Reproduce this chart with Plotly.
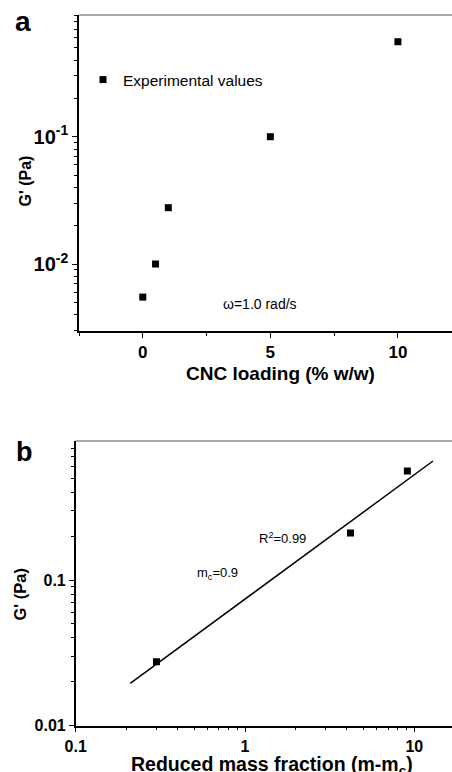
import plotly.graph_objects as go

W, H = 452, 772
FONT = "Liberation Sans, Arial, sans-serif"

# ---- data: panel a ----
cnc_loading = [0, 0.5, 1, 5, 10]
g_prime_a = [0.0055, 0.010, 0.0277, 0.100, 0.557]

# ---- data: panel b ----
reduced_mass = [0.30, 4.2, 9.1]
g_prime_b = [0.0275, 0.21, 0.56]
fit_x = [0.21, 12.9]
fit_y = [0.0195, 0.656]

# ---- ticks ----
a_xticks = [0, 5, 10]
a_xticktext = ["0", "5", "10"]
a_xminor = [-2.5, 2.5, 7.5]
a_yticks = [0.01, 0.1]
a_yticktext = ["10<sup>-2</sup>", "10<sup>-1</sup>"]
b_xticks = [0.1, 1, 10]
b_xticktext = ["0.1", "1", "10"]
b_yticks = [0.01, 0.1]
b_yticktext = ["0.01", "0.1"]

log_minor_a = [m * 10 ** e for e in (-3, -2, -1) for m in range(2, 10)]
log_minor_bx = [m * 10 ** e for e in (-1, 0, 1) for m in range(2, 10)]
log_minor_by = [m * 10 ** e for e in (-2, -1) for m in range(2, 10)]


def fx(p):
    return p / W


def fy(p):
    return 1 - p / H


def bold(labels):
    return ["<b>" + t + "</b>" for t in labels]


fig = go.Figure()
fig.add_trace(go.Scatter(
    x=cnc_loading, y=g_prime_a, mode="markers", name="Experimental values",
    marker=dict(symbol="square", size=7, color="black"),
    xaxis="x", yaxis="y", showlegend=True))
fig.add_trace(go.Scatter(
    x=fit_x, y=fit_y, mode="lines", line=dict(color="black", width=1.5),
    xaxis="x2", yaxis="y2", showlegend=False))
fig.add_trace(go.Scatter(
    x=reduced_mass, y=g_prime_b, mode="markers",
    marker=dict(symbol="square", size=7, color="black"),
    xaxis="x2", yaxis="y2", showlegend=False))


def axis(size, **kw):
    d = dict(showgrid=False, zeroline=False, showline=True, linecolor="black",
             linewidth=1.5, ticks="outside", tickcolor="black", tickwidth=1.2,
             ticklen=5, automargin=False,
             tickfont=dict(family=FONT, size=size, color="black"))
    d.update(kw)
    return d


def minor(vals):
    return dict(tickmode="array", tickvals=vals, ticks="outside",
                ticklen=3, tickcolor="black", tickwidth=1.2)


fig.update_layout(
    width=W, height=H, margin=dict(l=0, r=0, t=0, b=0),
    paper_bgcolor="white", plot_bgcolor="white",
    font=dict(family=FONT, color="black"),
    xaxis=axis(17, domain=[fx(79), 1], range=[-2.5, 12.12], anchor="y",
               tickmode="array", tickvals=a_xticks, ticktext=bold(a_xticktext),
               minor=minor(a_xminor)),
    yaxis=axis(20, domain=[fy(331), fy(15)], type="log",
               range=[-2.526, -0.044], anchor="x",
               tickmode="array", tickvals=a_yticks, ticktext=bold(a_yticktext),
               minor=minor(log_minor_a)),
    xaxis2=axis(16, domain=[fx(75.7), 1], type="log", range=[-1, 1.2227],
                anchor="y2", tickmode="array", tickvals=b_xticks,
                ticktext=bold(b_xticktext), minor=minor(log_minor_bx)),
    yaxis2=axis(16, domain=[fy(725.7), fy(441)], type="log",
                range=[-2, -0.046], anchor="x2",
                tickmode="array", tickvals=b_yticks, ticktext=bold(b_yticktext),
                minor=minor(log_minor_by)),
    legend=dict(x=fx(83), y=fy(80), xanchor="left", yanchor="middle",
                bgcolor="rgba(0,0,0,0)", font=dict(family=FONT, size=15.5, color="black"),
                itemclick=False),
)

# top frame lines
for xr, yr in (("x domain", "y domain"), ("x2 domain", "y2 domain")):
    fig.add_shape(type="line", xref=xr, yref=yr, x0=0, x1=1, y0=1, y1=1,
                  line=dict(color="#555555", width=1))


def ann(text, x, y, size, is_bold=False, angle=0):
    if is_bold:
        text = "<b>" + text + "</b>"
    fig.add_annotation(text=text, x=fx(x), y=fy(y), xref="paper", yref="paper",
                       showarrow=False, textangle=angle, xanchor="center", yanchor="middle",
                       font=dict(family=FONT, size=size, color="black"))


ann("a", 23, 22, 28, is_bold=True)
ann("b", 24, 452, 27, is_bold=True)
ann("G' (Pa)", 25.5, 181, 16, is_bold=True, angle=-90)
ann("CNC loading (% w/w)", 280, 374, 19, is_bold=True)
ann("ω=1.0 rad/s", 260, 304, 14)
ann("G' (Pa)", 19.5, 594, 16.5, is_bold=True, angle=-90)
ann("Reduced mass fraction (m-m<sub>c</sub>)", 272, 765, 19.5, is_bold=True)
ann("R<sup>2</sup>=0.99", 282, 538, 13)
ann("m<sub>c</sub>=0.9", 217, 573, 13)

fig.write_html("out.html", config={"displayModeBar": False},
               post_script="document.body.style.margin='0';document.body.style.overflow='hidden';")
